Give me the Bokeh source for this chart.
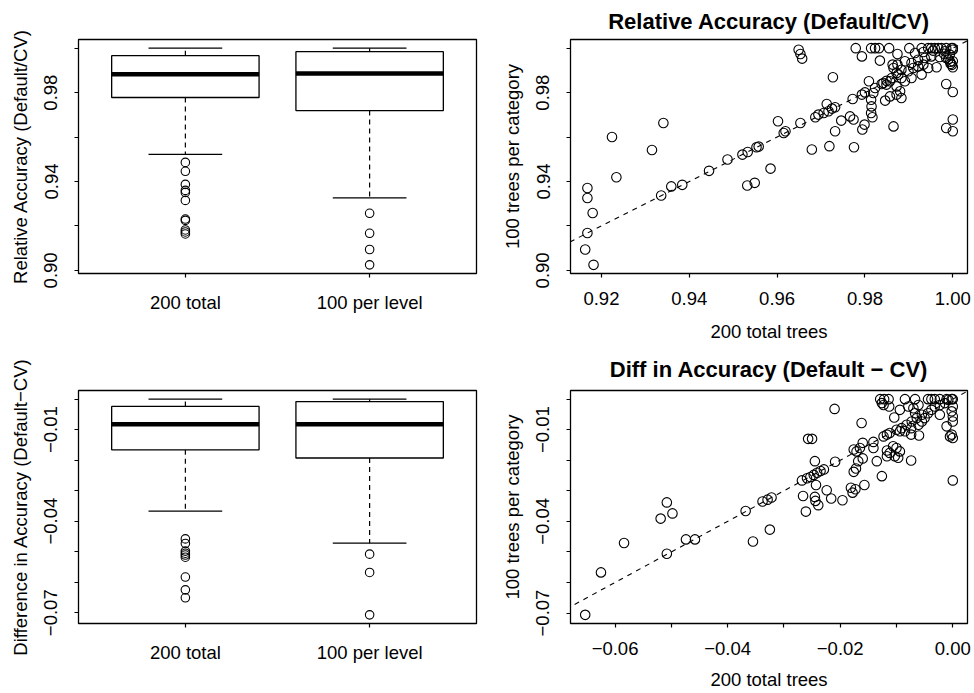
from bokeh.plotting import figure
from bokeh.models import Range1d, FixedTicker, CustomJSTickFormatter, Slope, ColumnDataSource
from bokeh.layouts import column, row
from bokeh.embed import file_html
from bokeh.resources import INLINE

FONT = "Liberation Sans"

# ---------------- data ----------------
groups = ["200 total", "100 per level"]
titles = ["Relative Accuracy (Default/CV)", "Diff in Accuracy (Default \u2212 CV)"]

# Relative accuracy (Default/CV) box statistics
rel_lower = [0.9522, 0.9326]
rel_q1 = [0.9778, 0.9719]
rel_median = [0.9883, 0.9886]
rel_q3 = [0.9966, 0.9984]
rel_upper = [1.0000, 1.0000]
rel_out_200 = [0.9486, 0.9446, 0.9387, 0.9360, 0.9351, 0.9315, 0.9231, 0.9225, 0.9182, 0.9173, 0.9164]
rel_out_100 = [0.9257, 0.9167, 0.9094, 0.9025]

# Difference in accuracy (Default-CV) box statistics
diff_lower = [-0.0367, -0.0472]
diff_q1 = [-0.0166, -0.0193]
diff_median = [-0.0082, -0.0082]
diff_q3 = [-0.0024, -0.0008]
diff_upper = [0.0000, 0.0000]
diff_out_200 = [-0.0458, -0.0473, -0.0498, -0.0505, -0.0511, -0.0518, -0.0583, -0.0625, -0.0651]
diff_out_100 = [-0.0508, -0.0568, -0.0707]

# Relative accuracy scatter: 200 total trees (x) vs 100 trees per category (y)
rel_200 = [
    0.9168, 0.9168, 0.9180, 0.9168, 0.9163, 0.9182, 0.9224, 0.9234, 0.9315, 0.9341,
    0.9336, 0.9359, 0.9384, 0.9445, 0.9487, 0.9521, 0.9533, 0.9553, 0.9558, 0.9532,
    0.9549, 0.9585,
    0.9602, 0.9615, 0.9619, 0.9653, 0.9679, 0.9719, 0.9775,
    0.9649, 0.9653, 0.9657,
    0.9687, 0.9694, 0.9706, 0.9717, 0.9713, 0.9725, 0.9732,
    0.9727, 0.9746, 0.9732,
    0.9766, 0.9774, 0.9772,
    0.9779, 0.9793,
    0.9794, 0.9799,
    0.9815, 0.9814, 0.9817,
    0.9814, 0.9823, 0.9832, 0.9855, 0.9901, 0.9929, 0.9944, 0.9951, 0.9959, 0.9967,
    0.9974, 0.9985, 0.9997, 1.0000,
    0.9874, 0.9914, 0.9933, 0.9955, 0.9982, 1.0000, 0.9993,
    0.9834, 0.9863, 0.9874, 0.9891, 0.9906, 0.9921, 0.9936, 0.9951, 0.9963, 0.9985,
    1.0000, 1.0000,
    0.9865, 0.9872, 0.9883, 0.9899, 0.9910, 0.9921, 0.9933, 0.9944, 0.9929, 0.9906,
    0.9883, 0.9861, 0.9849, 0.9842, 0.9849, 0.9876, 0.9891,
    0.9809, 0.9838, 0.9857, 0.9872, 0.9880, 0.9872, 0.9883, 0.9823, 0.9800, 0.9793,
    0.9819, 0.9814, 0.9846, 0.9857,
    0.9865, 0.9985, 1.0000, 1.0000, 0.9985, 1.0000,
    0.9970, 0.9990, 0.9995, 0.9980, 0.9994, 0.9998,
]
rel_100 = [
    0.9371, 0.9326, 0.9258, 0.9168, 0.9094, 0.9025, 0.9600, 0.9419, 0.9542, 0.9663,
    0.9337, 0.9378, 0.9385, 0.9448, 0.9499, 0.9521, 0.9533, 0.9554, 0.9557, 0.9382,
    0.9394, 0.9458,
    0.9671, 0.9618, 0.9626, 0.9663, 0.9544, 0.9559, 0.9554,
    0.9993, 0.9974, 0.9953,
    0.9689, 0.9701, 0.9708, 0.9716, 0.9749, 0.9728, 0.9734,
    0.9869, 0.9674, 0.9626,
    0.9693, 0.9679, 0.9771,
    1.0000, 0.9963,
    0.9634, 0.9656,
    0.9738, 0.9708, 0.9689,
    1.0000, 1.0000, 1.0000, 1.0000, 1.0000, 1.0000, 1.0000, 1.0000, 1.0000, 1.0000,
    1.0000, 1.0000, 1.0000, 1.0000,
    0.9974, 0.9978, 0.9983, 0.9989, 0.9986, 0.9993, 0.9971,
    0.9944, 0.9926, 0.9926, 0.9941, 0.9933, 0.9948, 0.9956, 0.9963, 0.9914, 0.9956,
    0.9941, 0.9914,
    0.9911, 0.9888, 0.9903, 0.9896, 0.9911, 0.9918, 0.9926, 0.9911, 0.9881, 0.9866,
    0.9866, 0.9866, 0.9853, 0.9843, 0.9836, 0.9881, 0.9851,
    0.9851, 0.9839, 0.9851, 0.9828, 0.9806, 0.9791, 0.9776, 0.9821, 0.9801, 0.9791,
    0.9798, 0.9768, 0.9764, 0.9783,
    0.9648, 0.9839, 0.9803, 0.9679, 0.9641, 0.9626,
    0.9960, 0.9950, 0.9930, 0.9975, 0.9939, 0.9925,
]

# Difference scatter: 200 total trees (x) vs 100 trees per category (y)
diff_200 = [
    -0.0653, -0.0625, -0.0584, -0.0508, -0.0474, -0.0458, -0.0519, -0.0508, -0.0498, -0.0368,
    -0.0355, -0.0325, -0.0338, -0.0329, -0.0322,
    -0.0268, -0.0259, -0.0253, -0.0247, -0.0241, -0.0235, -0.0229,
    -0.0243, -0.0266, -0.0245, -0.0244, -0.0261, -0.0239,
    -0.0224, -0.0216, -0.0196,
    -0.0181, -0.0178, -0.0173, -0.0157,
    -0.0257, -0.0250, -0.0245, -0.0209, -0.0210, -0.0162,
    -0.0176, -0.0172, -0.0168, -0.0160,
    -0.0176, -0.0171, -0.0165, -0.0160,
    -0.0141, -0.0141, -0.0135, -0.0126,
    -0.0117, -0.0117, -0.0112,
    -0.0123, -0.0117, -0.0112,
    -0.0106, -0.0100, -0.0094, -0.0103, -0.0097,
    -0.0074,
    -0.0129, -0.0122, -0.0114, -0.0126, -0.0123, -0.0113,
    -0.0104, -0.0085, -0.0067, -0.0094,
    -0.0079, -0.0070, -0.0067, -0.0061, -0.0064, -0.0073, -0.0082, -0.0091, -0.0085, -0.0074,
    -0.0061, -0.0055, -0.0050, -0.0055, -0.0044, -0.0038, -0.0032, -0.0023, -0.0014, -0.0008,
    -0.0002,
    -0.0044, -0.0038, -0.0032, -0.0023, -0.0011, 0.0000,
    -0.0023,
    0.0000, -0.0002, 0.0000, -0.0011, 0.0000, -0.0002, 0.0000, -0.0005, 0.0000,
    -0.0060, -0.0074, -0.0100, -0.0094,
]
diff_100 = [
    -0.0706, -0.0567, -0.0471, -0.0506, -0.0459, -0.0459, -0.0391, -0.0338, -0.0374, -0.0366,
    -0.0466, -0.0427, -0.0335, -0.0329, -0.0322,
    -0.0266, -0.0259, -0.0255, -0.0248, -0.0241, -0.0235, -0.0230,
    -0.0281, -0.0317, -0.0320, -0.0333, -0.0368, -0.0347,
    -0.0298, -0.0325, -0.0331,
    -0.0290, -0.0306, -0.0295, -0.0281,
    -0.0130, -0.0130, -0.0203, -0.0205, -0.0032, -0.0078,
    -0.0238, -0.0227, -0.0203, -0.0194,
    -0.0165, -0.0171, -0.0160, -0.0143,
    -0.0140, -0.0160, -0.0203, -0.0252,
    -0.0168, -0.0187, -0.0176,
    -0.0122, -0.0116, -0.0111,
    -0.0154, -0.0160, -0.0171, -0.0187, -0.0192,
    -0.0201,
    0.0000, 0.0000, 0.0000, -0.0013, -0.0019, -0.0024,
    -0.0060, 0.0000, 0.0000, -0.0035,
    -0.0024, -0.0030, -0.0046, -0.0019, -0.0062, -0.0073, -0.0084, -0.0095, -0.0105, -0.0095,
    -0.0084, -0.0073, -0.0062, -0.0051, -0.0046, -0.0035, -0.0024, -0.0019, -0.0013, -0.0002,
    0.0000,
    0.0000, 0.0000, 0.0000, 0.0000, 0.0000, 0.0000,
    -0.0051,
    -0.0024, -0.0040, -0.0057, -0.0089, -0.0073, -0.0116, -0.0127, -0.0122, -0.0266,
    -0.0119, -0.0116, -0.0100, -0.0105,
]

rel_yticks = [0.90, 0.92, 0.94, 0.96, 0.98, 1.00]
rel_ylabels = [0.90, 0.94, 0.98]
rel_xticks = [0.92, 0.94, 0.96, 0.98, 1.00]
diff_yticks = [0.00, -0.01, -0.02, -0.03, -0.04, -0.05, -0.06, -0.07]
diff_ylabels = [-0.01, -0.04, -0.07]
diff_xticks = [-0.06, -0.05, -0.04, -0.03, -0.02, -0.01, 0.00]
diff_xlabels = [-0.06, -0.04, -0.02, 0.00]

# ---------------- helpers ----------------
TICK_FONT = "18.5px"


def padded(vals):
    lo, hi = min(vals), max(vals)
    d = (hi - lo) * 0.04
    return Range1d(lo - d, hi + d)


def num_fmt(labeled):
    return CustomJSTickFormatter(args=dict(labeled=labeled), code="""
        let ok = false;
        for (const v of labeled) { if (Math.abs(v - tick) < 1e-9) ok = true; }
        if (!ok) return "";
        return tick.toFixed(2).replace("-", "\u2212");
    """)


def make_fig(w, h, xr, yr, left, right, top, bottom):
    p = figure(width=w, height=h, x_range=xr, y_range=yr,
               output_backend="svg", toolbar_location=None,
               min_border_left=left, min_border_right=right,
               min_border_top=top, min_border_bottom=bottom)
    p.xgrid.visible = False
    p.ygrid.visible = False
    p.outline_line_color = "black"
    p.outline_line_width = 1.3
    p.outline_line_alpha = 1.0
    p.background_fill_color = "white"
    p.border_fill_color = "white"
    for ax in (p.xaxis[0], p.yaxis[0]):
        ax.axis_line_color = None
        ax.major_tick_out = 4
        ax.major_tick_in = 0
        ax.minor_tick_out = 0
        ax.minor_tick_in = 0
        ax.major_tick_line_color = "black"
        ax.major_tick_line_width = 1.2
        ax.major_label_text_font = FONT
        ax.major_label_text_font_size = TICK_FONT
        ax.major_label_text_color = "black"
        ax.axis_label_text_font = FONT
        ax.axis_label_text_font_size = TICK_FONT
        ax.axis_label_text_font_style = "normal"
        ax.axis_label_text_color = "black"
    p.yaxis[0].major_label_orientation = "vertical"
    p.xaxis[0].major_label_standoff = 14
    p.yaxis[0].major_label_standoff = 17
    p.yaxis[0].axis_label_standoff = 11
    p.xaxis[0].axis_label_standoff = 13
    return p


def set_title(p, text, standoff):
    p.title.text = text
    p.title.align = "center"
    p.title.text_font = FONT
    p.title.text_font_size = "22px"
    p.title.text_font_style = "bold"
    p.title.text_color = "black"
    p.title.standoff = standoff


def draw_box(p, lower, q1, med, q3, upper, outs):
    pos = [1, 2]
    src = ColumnDataSource(dict(
        x=pos, left=[i - 0.4 for i in pos], right=[i + 0.4 for i in pos],
        cl=[i - 0.2 for i in pos], cr=[i + 0.2 for i in pos],
        lower=lower, q1=q1, med=med, q3=q3, upper=upper))
    p.segment(x0="x", y0="q3", x1="x", y1="upper", source=src,
              line_color="black", line_width=1.2, line_dash="5 4")
    p.segment(x0="x", y0="q1", x1="x", y1="lower", source=src,
              line_color="black", line_width=1.2, line_dash="5 4")
    p.segment(x0="cl", y0="upper", x1="cr", y1="upper", source=src,
              line_color="black", line_width=1.2)
    p.segment(x0="cl", y0="lower", x1="cr", y1="lower", source=src,
              line_color="black", line_width=1.2)
    p.quad(left="left", right="right", bottom="q1", top="q3", source=src,
           fill_color="white", line_color="black", line_width=1.3)
    p.segment(x0="left", y0="med", x1="right", y1="med", source=src,
              line_color="black", line_width=4.5)
    ox, oy = [], []
    for i, vals in zip(pos, outs):
        ox += [i] * len(vals)
        oy += vals
    p.scatter(ox, oy, marker="circle", size=8.5, fill_color=None,
              line_color="black", line_width=1.1)
    p.xaxis[0].ticker = FixedTicker(ticks=pos)
    p.xaxis[0].major_label_overrides = {1: groups[0], 2: groups[1]}


# ---------------- panel 1: relative accuracy boxplot ----------------
rel_all = rel_lower + rel_upper + rel_out_200 + rel_out_100
p1 = make_fig(487, 346, Range1d(0.42, 2.58), padded(rel_all), 78, 11, 37, 73)
draw_box(p1, rel_lower, rel_q1, rel_median, rel_q3, rel_upper, [rel_out_200, rel_out_100])
p1.yaxis[0].ticker = FixedTicker(ticks=rel_yticks)
p1.yaxis[0].formatter = num_fmt(rel_ylabels)
p1.yaxis[0].axis_label = "Relative Accuracy (Default/CV)"

# ---------------- panel 2: relative accuracy scatter ----------------
p2 = make_fig(487, 346, padded(rel_200), padded(rel_100), 83, 7, 38, 73)
set_title(p2, titles[0], 12)
p2.add_layout(Slope(gradient=1, y_intercept=0, line_color="black",
                    line_dash="5 5", line_width=1.1))
p2.scatter(rel_200, rel_100, marker="circle", size=9.5, fill_color=None,
           line_color="black", line_width=1.1)
p2.xaxis[0].ticker = FixedTicker(ticks=rel_xticks)
p2.xaxis[0].formatter = num_fmt(rel_xticks)
p2.yaxis[0].ticker = FixedTicker(ticks=rel_yticks)
p2.yaxis[0].formatter = num_fmt(rel_ylabels)
p2.xaxis[0].axis_label = "200 total trees"
p2.yaxis[0].axis_label = "100 trees per category"

# ---------------- panel 3: difference boxplot ----------------
diff_all = diff_lower + diff_upper + diff_out_200 + diff_out_100
p3 = make_fig(487, 347, Range1d(0.42, 2.58), padded(diff_all), 78, 11, 43, 70)
draw_box(p3, diff_lower, diff_q1, diff_median, diff_q3, diff_upper, [diff_out_200, diff_out_100])
p3.yaxis[0].ticker = FixedTicker(ticks=diff_yticks)
p3.yaxis[0].formatter = num_fmt(diff_ylabels)
p3.yaxis[0].axis_label = "Difference in Accuracy (Default\u2212CV)"

# ---------------- panel 4: difference scatter ----------------
p4 = make_fig(487, 347, padded(diff_200), padded(diff_100), 83, 7, 43, 70)
set_title(p4, titles[1], 17)
p4.add_layout(Slope(gradient=1, y_intercept=0, line_color="black",
                    line_dash="5 5", line_width=1.1))
p4.scatter(diff_200, diff_100, marker="circle", size=9.5, fill_color=None,
           line_color="black", line_width=1.1)
p4.xaxis[0].ticker = FixedTicker(ticks=diff_xticks)
p4.xaxis[0].formatter = num_fmt(diff_xlabels)
p4.yaxis[0].ticker = FixedTicker(ticks=diff_yticks)
p4.yaxis[0].formatter = num_fmt(diff_ylabels)
p4.xaxis[0].axis_label = "200 total trees"
p4.yaxis[0].axis_label = "100 trees per category"
p4.xaxis[0].axis_label_standoff = 11

layout = column(row(p1, p2), row(p3, p4))
open("out.html", "w").write(file_html(layout, INLINE))
